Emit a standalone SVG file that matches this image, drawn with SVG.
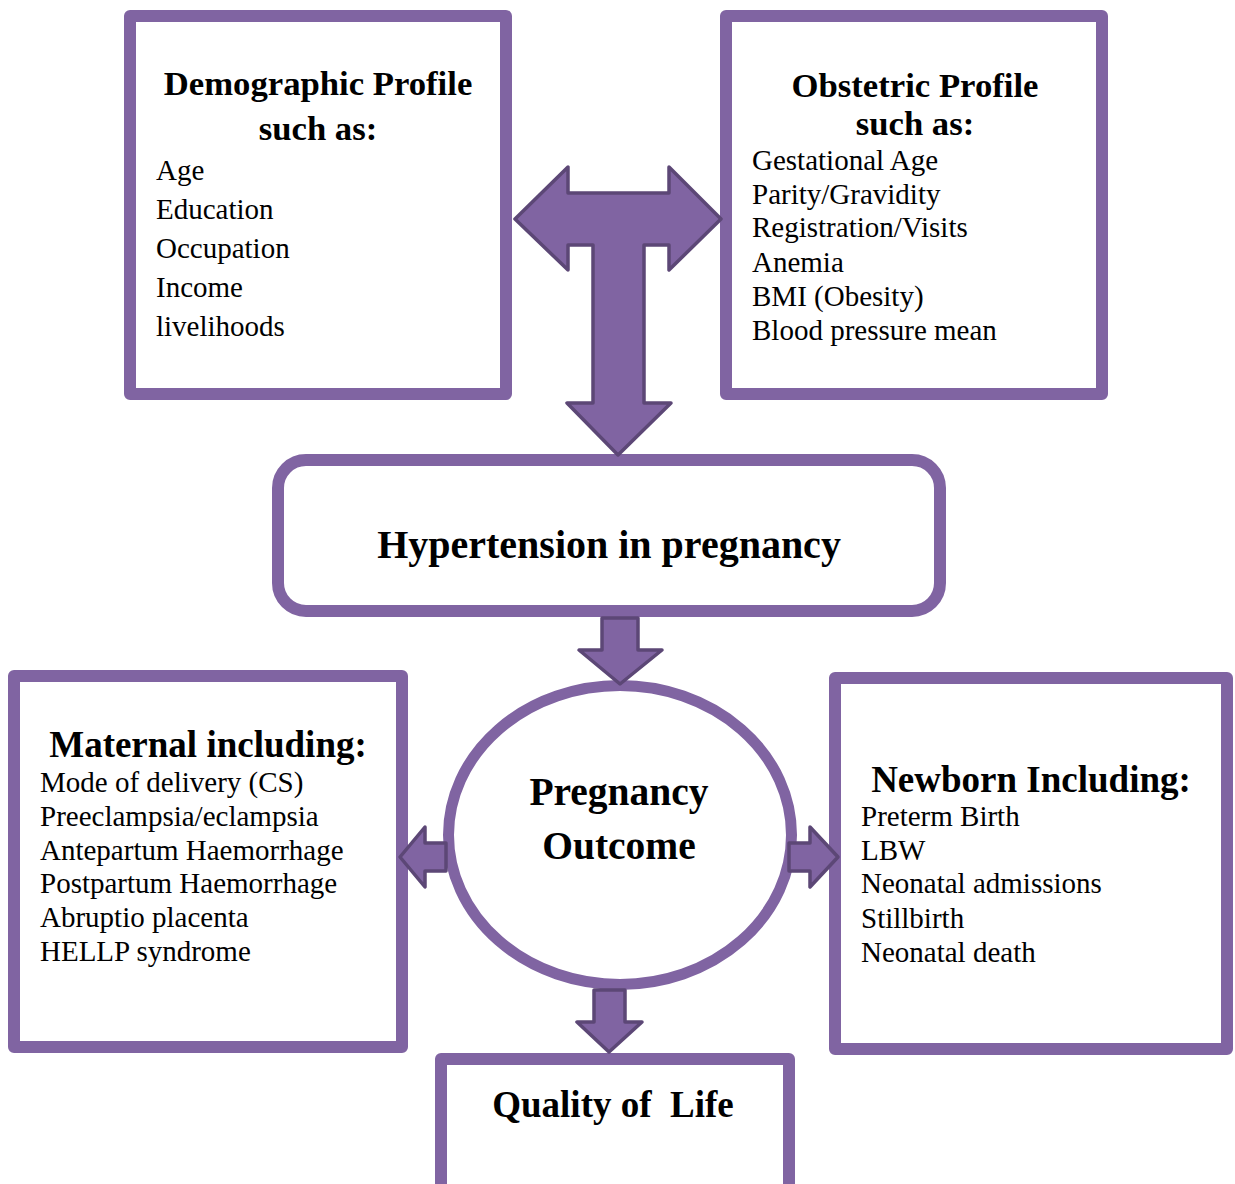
<svg xmlns="http://www.w3.org/2000/svg" width="1235" height="1184" viewBox="0 0 1235 1184">
<style>
.box{fill:#fff;stroke:#8064A2;stroke-width:12;stroke-linejoin:round}
.arrow{fill:#8064A2;stroke:#5C4776;stroke-width:3.5;stroke-linejoin:round}
text{font-family:"Liberation Serif","Times New Roman",serif;fill:#000}
.h1{font-weight:bold;font-size:34.7px;text-anchor:middle}
.h2{font-weight:bold;font-size:37px;text-anchor:middle}
.h3{font-weight:bold;font-size:40px;text-anchor:middle}
.item{font-size:29px}
</style>
<rect width="1235" height="1184" fill="#fff"/>
<g id="demographic">
<rect class="box" x="130" y="16" width="376" height="378"/>
<text class="h1" x="318" y="95">Demographic Profile</text>
<text class="h1" x="318" y="140">such as:</text>
<text class="item" x="156" y="180">Age</text>
<text class="item" x="156" y="219">Education</text>
<text class="item" x="156" y="258">Occupation</text>
<text class="item" x="156" y="297">Income</text>
<text class="item" x="156" y="336">livelihoods</text>
</g>
<g id="obstetric">
<rect class="box" x="726" y="16" width="376" height="378"/>
<text class="h1" x="915" y="97">Obstetric Profile</text>
<text class="h1" x="915" y="135">such as:</text>
<text class="item" x="752" y="170">Gestational Age</text>
<text class="item" x="752" y="204">Parity/Gravidity</text>
<text class="item" x="752" y="237">Registration/Visits</text>
<text class="item" x="752" y="272">Anemia</text>
<text class="item" x="752" y="306">BMI (Obesity)</text>
<text class="item" x="752" y="340">Blood pressure mean</text>
</g>
<g id="hypertension">
<rect class="box" x="278" y="460" width="662" height="151" rx="28" ry="28"/>
<text class="h3" x="609" y="558">Hypertension in pregnancy</text>
</g>
<g id="maternal">
<rect class="box" x="14" y="676" width="388" height="371"/>
<text class="h2" x="208" y="757">Maternal including:</text>
<text class="item" x="40" y="792">Mode of delivery (CS)</text>
<text class="item" x="40" y="826">Preeclampsia/eclampsia</text>
<text class="item" x="40" y="860">Antepartum Haemorrhage</text>
<text class="item" x="40" y="893">Postpartum Haemorrhage</text>
<text class="item" x="40" y="927">Abruptio placenta</text>
<text class="item" x="40" y="961">HELLP syndrome</text>
</g>
<g id="newborn">
<rect class="box" x="835" y="678" width="392" height="371"/>
<text class="h2" x="1031" y="792">Newborn Including:</text>
<text class="item" x="861" y="826">Preterm Birth</text>
<text class="item" x="861" y="860">LBW</text>
<text class="item" x="861" y="893">Neonatal admissions</text>
<text class="item" x="861" y="928">Stillbirth</text>
<text class="item" x="861" y="962">Neonatal death</text>
</g>
<g id="quality">
<rect class="box" x="441" y="1059" width="348" height="160"/>
<text class="h2" x="613" y="1117" xml:space="preserve">Quality of  Life</text>
</g>
<g id="outcome">
<ellipse cx="620" cy="835" rx="171.5" ry="149.5" fill="#fff" stroke="#8064A2" stroke-width="11"/>
<text class="h3" x="619" y="805" style="font-size:39.5px">Pregnancy</text>
<text class="h3" x="619" y="859" style="font-size:39.5px">Outcome</text>
</g>
<g id="connectors">
<polygon class="arrow" points="515,219 568,167 568,193 669,193 669,167 721,219 669,270 669,245 644,245 644,403 671,403 618,455 567,403 593,403 593,245 568,245 568,270"/>
<polygon class="arrow" points="602,618 638,618 638,650 662,650 620,684 579,650 602,650"/>
<polygon class="arrow" points="446,843 425,843 425,827 400,857 425,887 425,871 446,871"/>
<polygon class="arrow" points="789,843 810,843 810,827 838,857 810,887 810,871 789,871"/>
<polygon class="arrow" points="594,990 625,990 625,1022 642,1022 609,1052 577,1022 594,1022"/>
</g>
</svg>
